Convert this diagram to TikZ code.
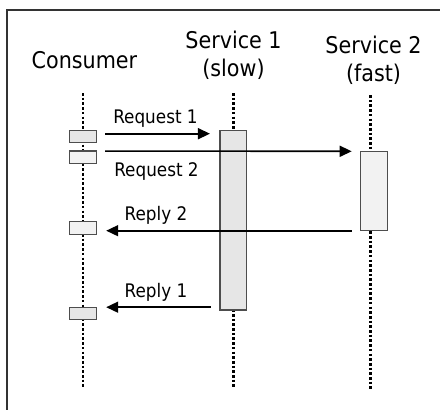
\documentclass[tikz,border=0pt]{standalone}
\usepackage{fontspec}
\setmainfont{DejaVu Sans Condensed}
\usetikzlibrary{arrows.meta,calc}

\definecolor{actdark}{HTML}{E6E6E6}
\definecolor{actlight}{HTML}{F2F2F2}
\definecolor{edge}{HTML}{4D4D4D}

\tikzset{
  frameline/.style={draw=black!80, line width=1.4pt},
  lifeline/.style={draw=black, line width=2.6pt, dash pattern=on 2.6pt off 2.1pt},
  actbox/.style={draw=edge, line width=1.2pt, rectangle, inner sep=0pt, outer sep=0pt},
  msg/.style={draw=black, line width=1.6pt, -{Triangle[length=12pt,width=11pt]}},
  header/.style={anchor=base, inner sep=0pt, font=\fontsize{23}{27}\selectfont},
  msglabel/.style={anchor=base, inner sep=0pt, font=\fontsize{18.7}{22}\selectfont},
}

\begin{document}
\begin{tikzpicture}[x=1pt,y=-1pt]
\useasboundingbox (0,0) rectangle (440,410);

% outer frame (top and left edges)
\draw[frameline] (440,10) -- (7,10) -- (7,410);

% headers
\node[header] (hcons) at (84.5,68) {Consumer};
\node[header] (hs1a) at (233.5,48) {Service 1};
\node[header] (hs1b) at (233.5,76) {(slow)};
\node[header] (hs2a) at (373.5,53) {Service 2};
\node[header] (hs2b) at (373.5,81) {(fast)};

% lifelines
\coordinate (consT) at (83,93);
\coordinate (consB) at (83,389);
\coordinate (s1T) at (233.3,93);
\coordinate (s1B) at (233.3,389);
\coordinate (s2T) at (370.6,95);
\coordinate (s2B) at (370.6,389);
\draw[lifeline] (consT) -- (consB);
\draw[lifeline] (s1T) -- (s1B);
\draw[lifeline] (s2T) -- (s2B);

% activation boxes
\node[actbox, fill=actdark,  minimum width=27pt, minimum height=12.5pt] (c1) at (82.7,136.5) {};
\node[actbox, fill=actlight, minimum width=27pt, minimum height=12.3pt] (c2) at (82.7,157.2) {};
\node[actbox, fill=actlight, minimum width=27pt, minimum height=12.3pt] (c3) at (82.7,228) {};
\node[actbox, fill=actdark,  minimum width=27pt, minimum height=12pt]   (c4) at (82.7,313.2) {};
\node[actbox, fill=actdark,  minimum width=26.7pt, minimum height=179.7pt] (s1) at (233.3,220.2) {};
\node[actbox, fill=actlight, minimum width=26.6pt, minimum height=79.4pt]  (s2) at (374,191) {};

% message end points
\coordinate (r1a) at ($(c1.east)+(9,-2.8)$);
\coordinate (r1b) at ($(s1.west |- r1a)+(-10,0)$);
\coordinate (r2a) at ($(c2.north east)+(9,0)$);
\coordinate (r2b) at ($(s2.north west)+(-9,0)$);
\coordinate (p2a) at ($(s2.south west)+(-9,0)$);
\coordinate (p2b) at ($(c3.east |- p2a)+(10,0)$);
\coordinate (p1a) at ($(s1.west |- c4.north)+(-9,0)$);
\coordinate (p1b) at ($(c4.north east)+(10,0)$);

% messages
\draw[msg] (r1a) -- (r1b);
\draw[msg] (r2a) -- (r2b);
\draw[msg] (p2a) -- (p2b);
\draw[msg] (p1a) -- (p1b);

% message labels
\node[msglabel] (lr1) at (155.5,123) {Request 1};
\node[msglabel] (lr2) at (156.5,176.7) {Request 2};
\node[msglabel] (lp2) at (156,220.7) {Reply 2};
\node[msglabel] (lp1) at (156,297.3) {Reply 1};
\end{tikzpicture}
\end{document}
